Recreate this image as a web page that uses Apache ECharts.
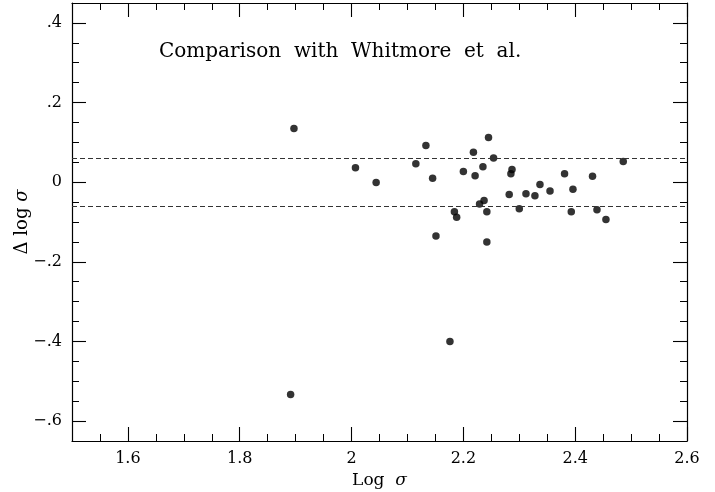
<!DOCTYPE html>
<html>
<head>
<meta charset="utf-8">
<script src="https://cdn.jsdelivr.net/npm/echarts@6/dist/echarts.min.js"></script>
<style>html,body{margin:0;padding:0;background:#fff;}#c{width:715px;height:492px;}</style>
</head>
<body>
<div id="c"></div>
<script>
// Data (Log sigma, Delta log sigma)
var logSigma = [1.897, 1.891, 2.007, 2.044, 2.115, 2.133, 2.145, 2.151, 2.176, 2.184,
  2.188, 2.200, 2.218, 2.221, 2.229, 2.235, 2.237, 2.242, 2.242, 2.245,
  2.254, 2.282, 2.285, 2.287, 2.300, 2.312, 2.328, 2.337, 2.355, 2.381,
  2.393, 2.396, 2.431, 2.439, 2.455, 2.486];
var deltaLogSigma = [0.135, -0.533, 0.036, -0.001, 0.046, 0.092, 0.010, -0.135, -0.400, -0.074,
  -0.088, 0.027, 0.075, 0.016, -0.055, 0.039, -0.046, -0.074, -0.150, 0.112,
  0.061, -0.031, 0.021, 0.032, -0.067, -0.029, -0.034, -0.006, -0.022, 0.021,
  -0.074, -0.018, 0.015, -0.069, -0.094, 0.052];
var dashedLevels = [0.06, -0.06];
var xMajorTicks = [1.6, 1.8, 2.0, 2.2, 2.4, 2.6];
var yMajorTicks = [-0.6, -0.4, -0.2, 0, 0.2, 0.4];
var titleText = 'Comparison  with  Whitmore  et  al.';

var FONT = '"DejaVu Serif", "Liberation Serif", serif';
var INK = '#000';
var points = logSigma.map(function (x, i) { return [x, deltaLogSigma[i]]; });

function xFmt(v) { return String(+(+v).toFixed(1)); }
function yFmt(v) {
  if (Math.abs(v) < 1e-9) return '0';
  var s = Math.abs(v).toFixed(1).replace(/^0/, '');
  return (v < 0 ? '\u2212' : '') + s;
}

function minorAxis(pos, min, max, interval) {
  return {
    type: 'value', position: pos, min: min, max: max, interval: interval,
    axisLine: { show: true, onZero: false, lineStyle: { color: INK, width: 1.2 } },
    axisTick: { show: true, inside: true, length: 7, lineStyle: { color: INK, width: 1 } },
    axisLabel: { show: false },
    splitLine: { show: false }
  };
}
function majorAxis(pos, min, max, interval, ticks, labels, fmt) {
  return {
    type: 'value', position: pos, min: min, max: max, interval: interval,
    axisLine: { show: false, onZero: false },
    axisTick: { show: true, inside: true, length: 14, customValues: ticks, lineStyle: { color: INK, width: 1.1 } },
    axisLabel: { show: labels, customValues: ticks, formatter: fmt, fontFamily: FONT, fontSize: 16, color: INK, margin: 10 },
    splitLine: { show: false }
  };
}

var xMin = 1.5, xMax = 2.6, yMin = -0.65, yMax = 0.45;

var xAxes = [
  minorAxis('bottom', xMin, xMax, 0.05),
  majorAxis('bottom', xMin, xMax, 0.05, xMajorTicks, true, xFmt),
  minorAxis('top', xMin, xMax, 0.05),
  majorAxis('top', xMin, xMax, 0.05, xMajorTicks, false, xFmt)
];
xAxes[1].name = 'Log  {i|\u03c3}';
xAxes[1].nameLocation = 'middle';
xAxes[1].nameGap = 31;
xAxes[1].nameTextStyle = { fontFamily: FONT, fontSize: 17, color: INK,
  rich: { i: { fontFamily: FONT, fontStyle: 'italic', fontSize: 17, color: INK } } };

var yAxes = [
  minorAxis('left', yMin, yMax, 0.05),
  majorAxis('left', yMin, yMax, 0.05, yMajorTicks, true, yFmt),
  minorAxis('right', yMin, yMax, 0.05),
  majorAxis('right', yMin, yMax, 0.05, yMajorTicks, false, yFmt)
];
yAxes[1].name = '\u0394 log {i|\u03c3}';
yAxes[1].nameLocation = 'middle';
yAxes[1].nameGap = 41;
yAxes[1].nameMoveOverlap = false;
yAxes[1].nameTextStyle = { fontFamily: FONT, fontSize: 18, color: INK,
  rich: { i: { fontFamily: FONT, fontStyle: 'italic', fontSize: 18, color: INK } } };

var chart = echarts.init(document.getElementById('c'), null, { renderer: 'canvas' });
chart.setOption({
  animation: false,
  backgroundColor: '#fff',
  title: {
    text: titleText, left: 154, top: 37,
    textStyle: { fontFamily: FONT, fontWeight: 'normal', fontSize: 20, color: INK }
  },
  grid: { left: 72, right: 28, top: 3, bottom: 51, containLabel: false, outerBoundsMode: 'none' },
  xAxis: xAxes,
  yAxis: yAxes,
  series: [{
    type: 'scatter',
    xAxisIndex: 0, yAxisIndex: 0,
    data: points,
    symbol: 'circle', symbolSize: 7.5,
    itemStyle: { color: '#000' },
    markLine: {
      silent: true, symbol: ['none', 'none'],
      label: { show: false },
      lineStyle: { type: [5, 3], color: '#333', width: 1 },
      data: dashedLevels.map(function (v) { return { yAxis: v }; })
    }
  }]
});
</script>
</body>
</html>
